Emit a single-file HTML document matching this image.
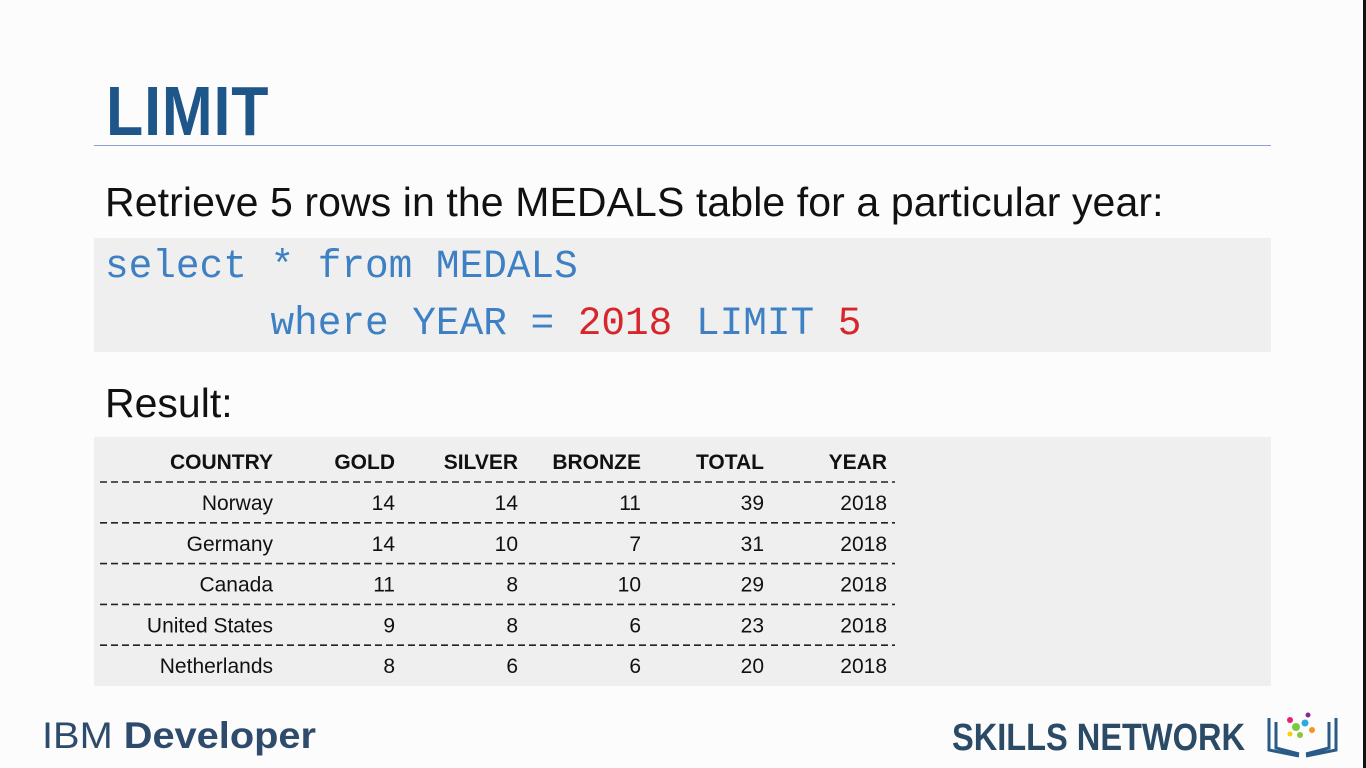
<!DOCTYPE html>
<html><head><meta charset="utf-8"><style>
html,body{margin:0;padding:0}
body{width:1366px;height:768px;position:relative;overflow:hidden;background:#fcfcfd;font-family:"Liberation Sans",sans-serif}
.abs{position:absolute}
#title{left:106px;top:76px;font-size:70px;font-weight:bold;color:#1f5689;letter-spacing:1px;line-height:1;transform:scaleX(0.87);transform-origin:left}
#rule{left:94px;top:145px;width:1177px;height:1px;background:#8c9fd6}
#sub{left:105px;top:177px;font-size:41px;color:#111;line-height:50px;white-space:nowrap;letter-spacing:0.1px}
#code{left:94px;top:238px;width:1177px;height:114px;background:#efefef}
.cl{position:absolute;left:11px;font-family:"Liberation Mono",monospace;font-size:39.4px;color:#3d80c3;white-space:pre;line-height:1}
.red{color:#d7262b}
#result{left:105px;top:378px;font-size:41px;color:#111;line-height:50px}
#tbl{left:94px;top:437px;width:1177px;height:249px;background:#efefef}
#bar{left:1363px;top:0;width:3px;height:768px;background:#111}
</style></head><body>
<div class="abs" id="title">LIMIT</div>
<div class="abs" id="rule"></div>
<div class="abs" id="sub">Retrieve 5 rows in the MEDALS table for a particular year:</div>
<div class="abs" id="code">
<div class="cl" style="top:9px">select * from MEDALS</div>
<div class="cl" style="top:66px">       where YEAR = <span class="red">2018</span> LIMIT <span class="red">5</span></div>
</div>
<div class="abs" id="result">Result:</div>
<div class="abs" id="tbl">
<svg width="1177" height="249">
<g id="rows" font-family="Liberation Sans, sans-serif" font-size="21" fill="#111" text-anchor="end"></g>
</svg>
</div>
<div class="abs" id="bar"></div>
<svg class="abs" style="left:0;top:690px" width="1366" height="78">
<text x="42" y="58" font-family="Liberation Sans, sans-serif" font-size="37" fill="#2f4b6c" textLength="274" lengthAdjust="spacingAndGlyphs">IBM <tspan font-weight="bold">Developer</tspan></text>
<text x="952" y="60" font-family="Liberation Sans Narrow, Liberation Sans, sans-serif" font-weight="bold" font-size="38" fill="#2a4a66" textLength="293" lengthAdjust="spacingAndGlyphs">SKILLS NETWORK</text>
<g fill="none" stroke="#2a5a86" stroke-width="3">
<path d="M1269 28 v32 l30 6 M1276 32 v26 l23 6 M1336 28 v32 l-30 6 M1329 32 v26 l-23 6"/>
<circle cx="1296" cy="37" r="4" fill="#7ac943" stroke="none"/><circle cx="1305" cy="33" r="3.5" fill="#29abe2" stroke="none"/>
<circle cx="1290" cy="30" r="3" fill="#ed1e79" stroke="none"/><circle cx="1312" cy="40" r="3" fill="#f7931e" stroke="none"/>
<circle cx="1300" cy="45" r="3" fill="#8cc63f" stroke="none"/><circle cx="1290" cy="44" r="2.5" fill="#ffcc00" stroke="none"/>
<circle cx="1308" cy="25" r="2.5" fill="#93278f" stroke="none"/>
</g>
</svg>
<script>
const headers = ["COUNTRY","GOLD","SILVER","BRONZE","TOTAL","YEAR"];
const countries = ["Norway","Germany","Canada","United States","Netherlands"];
const gold = [14,14,11,9,8];
const silver = [14,10,8,8,6];
const bronze = [11,7,10,6,6];
const total = [39,31,29,23,20];
const years = [2018,2018,2018,2018,2018];
const colRight = [179,301,424,547,670,793];
const g = document.getElementById('rows');
const NS = 'http://www.w3.org/2000/svg';
function txt(x,y,s,bold,name){
  const t=document.createElementNS(NS,'text');
  t.setAttribute('x',x);t.setAttribute('y',y);
  if(bold)t.setAttribute('font-weight','bold');
  t.textContent=s;
  
  
  g.appendChild(t);
}
function dash(y,i){
  const l=document.createElementNS(NS,'line');
  l.setAttribute('x1',6);l.setAttribute('x2',801);l.setAttribute('y1',y);l.setAttribute('y2',y);
  l.setAttribute('stroke','#222');l.setAttribute('stroke-width','1.6');l.setAttribute('stroke-dasharray','7 4');
  
  
  g.appendChild(l);
}
headers.forEach((h,i)=>txt(colRight[i],32,h,true,'header-'+h.toLowerCase()));
const rowH=40.8;
countries.forEach((c,r)=>{
  const y=73+r*rowH;
  dash(45+r*rowH,r);
  const vals=[c,gold[r],silver[r],bronze[r],total[r],years[r]];
  vals.forEach((v,i)=>txt(colRight[i],y,String(v),false,'cell-'+headers[i].toLowerCase()));
});
</script>
</body></html>
